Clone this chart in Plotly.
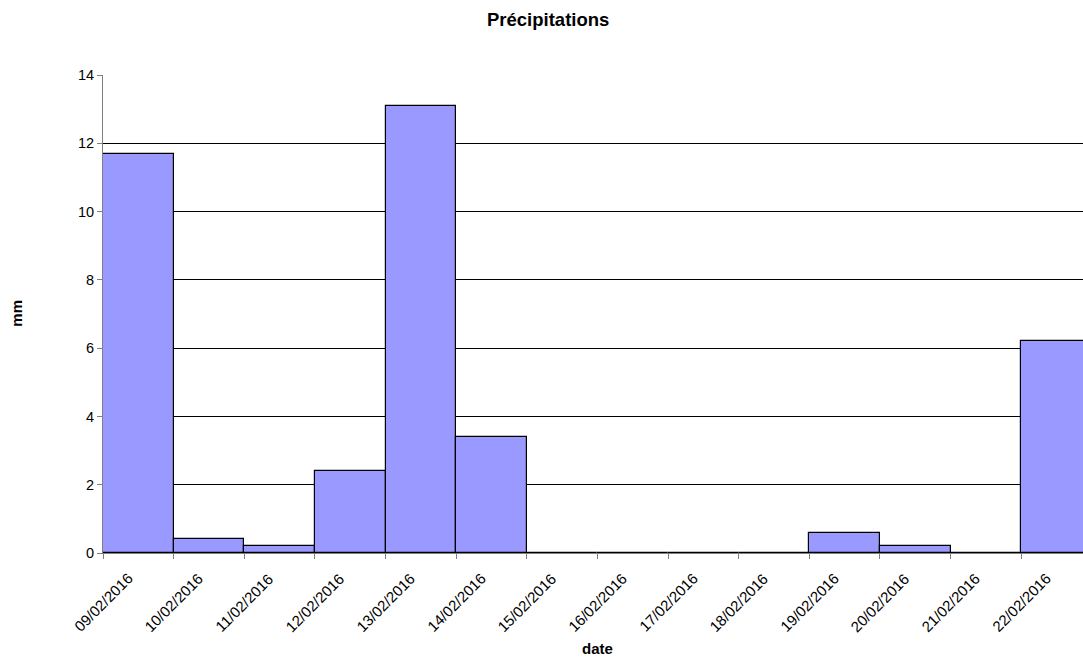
import plotly.graph_objects as go
from datetime import datetime, timedelta

dates = ["09/02/2016", "10/02/2016", "11/02/2016", "12/02/2016", "13/02/2016",
         "14/02/2016", "15/02/2016", "16/02/2016", "17/02/2016", "18/02/2016",
         "19/02/2016", "20/02/2016", "21/02/2016", "22/02/2016"]
precip_mm = [11.7, 0.4, 0.2, 2.4, 13.1, 3.4, 0, 0, 0, 0, 0.6, 0.2, 0, 6.2]
y_ticks = [0, 2, 4, 6, 8, 10, 12, 14]

x_dates = [datetime.strptime(d, "%d/%m/%Y") for d in dates]
DAY_MS = 86400000

W, H = 1083, 658
PL, PT, PB = 103, 75, 105
PH = H - PT - PB
fig = go.Figure()
fig.add_trace(go.Bar(
    x=x_dates, y=precip_mm,
    offset=0, width=DAY_MS,
    marker=dict(color="#9999FF", line=dict(color="black", width=1.2)),
    hoverinfo="x+y",
))

x_end = x_dates[0] + timedelta(days=13.874)

# rotated date labels centred under each tick
label_ann = [
    dict(text=lbl, x=xd, xref="x", y=(553 - 602.5) / PH, yref="paper",
         xanchor="center", yanchor="middle", textangle=-45, showarrow=False,
         font=dict(size=15))
    for lbl, xd in zip(dates, x_dates)
]

fig.update_layout(
    width=W, height=H,
    margin=dict(l=PL, r=0, t=PT, b=PB),
    paper_bgcolor="white", plot_bgcolor="white",
    font=dict(family="Liberation Sans, Arial, sans-serif", size=14, color="black"),
    showlegend=False,
    bargap=0,
    xaxis=dict(
        type="date",
        range=[x_dates[0], x_end],
        tickmode="array",
        tickvals=x_dates,
        showticklabels=False,
        ticks="outside", ticklen=5, tickcolor="#808080",
        showline=True, linecolor="#808080", linewidth=1,
        showgrid=False, zeroline=False,
    ),
    yaxis=dict(
        range=[0, 14],
        tickmode="array", tickvals=y_ticks,
        ticks="outside", ticklen=5, tickcolor="#808080",
        showline=True, linecolor="#808080", linewidth=1,
        showgrid=True, gridcolor="black", gridwidth=1,
        zeroline=False,
        tickfont=dict(size=14.5),
    ),
    annotations=label_ann + [
        dict(text="<b>Précipitations</b>", xref="paper", yref="paper",
             x=(548 - PL) / (W - PL), y=1 + (PT - 20) / PH,
             xanchor="center", yanchor="middle", showarrow=False,
             font=dict(size=18.5)),
        dict(text="<b>mm</b>", xref="paper", yref="paper",
             x=(17 - PL) / (W - PL), y=(553 - 313.7) / PH,
             xanchor="center", yanchor="middle", showarrow=False,
             textangle=-90, font=dict(size=15)),
        dict(text="<b>date</b>", xref="paper", yref="paper",
             x=(597.5 - PL) / (W - PL), y=(553 - 658) / PH,
             xanchor="center", yanchor="bottom", showarrow=False,
             borderpad=0, font=dict(size=15)),
    ],
)

fig.write_html("out.html", config={"displayModeBar": False},
               post_script="document.body.style.margin='0';document.body.style.overflow='hidden';")
